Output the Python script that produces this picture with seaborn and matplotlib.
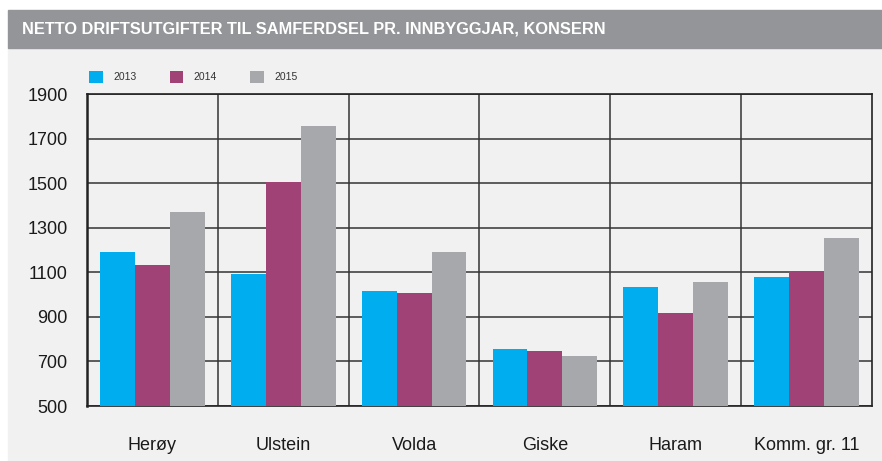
import matplotlib
matplotlib.use("Agg")
import matplotlib.pyplot as plt
from matplotlib.patches import Rectangle, Patch
import seaborn as sns
import pandas as pd

# Municipalities and years
kommunar = ["Herøy", "Ulstein", "Volda", "Giske", "Haram", "Komm. gr. 11"]
aar = ["2013", "2014", "2015"]

# Net operating expenses for transport per inhabitant (NOK)
v2013 = [1190, 1092, 1016, 757, 1034, 1079]
v2014 = [1133, 1505, 1007, 748, 918, 1106]
v2015 = [1370, 1756, 1191, 725, 1056, 1255]

farger = ["#00aeef", "#a04275", "#a7a8ab"]
yticks = [500, 700, 900, 1100, 1300, 1500, 1700, 1900]

df = pd.DataFrame({
    "kommune": kommunar * 3,
    "aar": [a for a in aar for _ in kommunar],
    "verdi": v2013 + v2014 + v2015,
})

sns.set_theme(style="white")
plt.rcParams["font.family"] = ["Liberation Sans", "DejaVu Sans"]

W, H = 882, 461
fig = plt.figure(figsize=(W / 100, H / 100), dpi=100)
fig.patch.set_facecolor("white")

# Light panel and grey title band
fig.add_artist(Rectangle((8 / W, 0), 1 - 8 / W, 1 - 48 / H,
                         transform=fig.transFigure, color="#f1f1f1", zorder=0))
fig.add_artist(Rectangle((8 / W, 1 - 48 / H), 1 - 8 / W, 38 / H,
                         transform=fig.transFigure, color="#939598", zorder=0))
fig.text(22 / W, 1 - 29.5 / H, "NETTO DRIFTSUTGIFTER TIL SAMFERDSEL PR. INNBYGGJAR, KONSERN",
         color="white", fontsize=11.8, fontweight="bold", va="center", ha="left",
         family=["Liberation Sans Narrow", "Liberation Sans", "DejaVu Sans"])

ax = fig.add_axes([87 / W, 1 - 406 / H, (872 - 87) / W, (406 - 94) / H])
ax.set_facecolor("#f1f1f1")

sns.barplot(data=df, x="kommune", y="verdi", hue="aar", palette=farger,
            saturation=1, width=0.8, order=kommunar, hue_order=aar,
            ax=ax, legend=False, zorder=3, linewidth=0, edgecolor="none")

ax.set_ylim(500, 1900)
ax.set_xlim(-0.5, len(kommunar) - 0.5)
ax.set_yticks(yticks)
ax.set_yticklabels([str(t) for t in yticks], fontsize=13, color="#1a1a1a")
ax.set_xticks(range(len(kommunar)))
ax.set_xticklabels(kommunar, fontsize=13, color="#1a1a1a")
ax.set_xticks([i + 0.5 for i in range(len(kommunar) - 1)], minor=True)
ax.set_xlabel("")
ax.set_ylabel("")
ax.tick_params(axis="both", which="both", length=0)
ax.tick_params(axis="x", pad=22)
ax.tick_params(axis="y", pad=14)

ax.set_axisbelow(True)
ax.grid(axis="y", which="major", color="#333333", linewidth=1.1)
ax.grid(axis="x", which="minor", color="#333333", linewidth=1.1)
ax.grid(axis="x", which="major", visible=False)
for s in ax.spines.values():
    s.set_visible(True)
    s.set_color("#222222")
    s.set_linewidth(1.2)
ax.spines["left"].set_linewidth(1.8)

handles = [Patch(facecolor=c, edgecolor="none") for c in farger]
fig.legend(handles, aar, loc="center left", bbox_to_anchor=(80 / W, 1 - 77 / H),
           ncol=3, frameon=False, fontsize=7.5, handlelength=1.3, handleheight=1.3,
           columnspacing=3.2, handletextpad=1.0, labelcolor="#333333")

fig.savefig("out.png", dpi=100)
